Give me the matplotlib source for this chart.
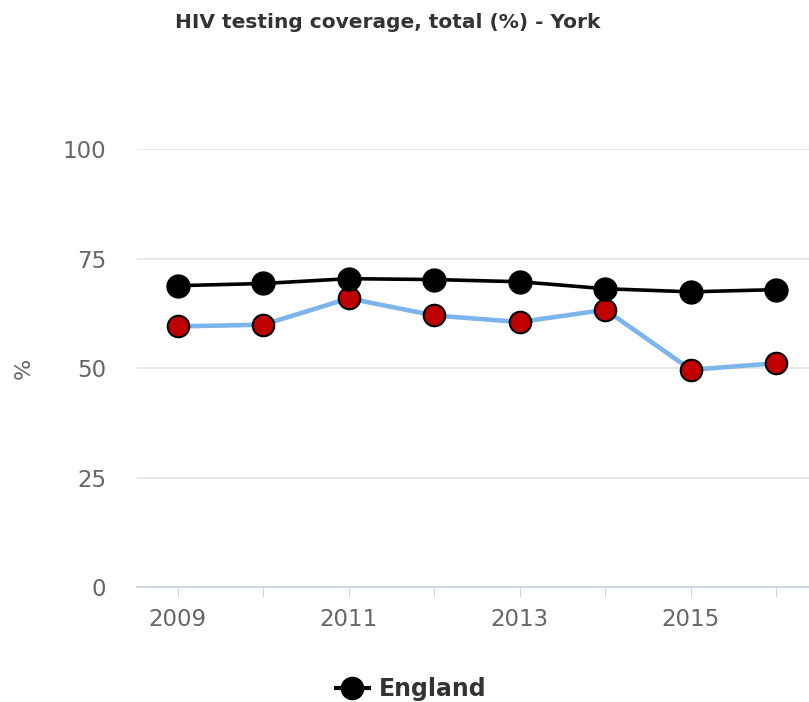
import matplotlib.pyplot as plt
from matplotlib.lines import Line2D

years = [2009, 2010, 2011, 2012, 2013, 2014, 2015, 2016]
england = [68.8, 69.3, 70.4, 70.2, 69.7, 68.1, 67.4, 67.9]
york = [59.5, 59.9, 65.9, 62.0, 60.5, 63.3, 49.6, 51.1]
tick_years = [2009, 2011, 2013, 2015]

fig = plt.figure(figsize=(8.09, 7.02), dpi=100)
ax = fig.add_axes([0.169, 0.1638, 0.831, 0.6239])

# York series
ax.plot(years, york, color="#7cb5ec", linewidth=3.3, zorder=3,
        marker="o", markersize=15.5, markerfacecolor="#c00000",
        markeredgecolor="#000000", markeredgewidth=1.5)
# England series
ax.plot(years, england, color="#000000", linewidth=2.6, zorder=4,
        marker="o", markersize=16.5, markerfacecolor="#000000",
        markeredgecolor="#000000")

ax.set_ylim(0, 100)
ax.set_xlim(2008.52, 2016.38)
ax.set_yticks([0, 25, 50, 75, 100])
ax.set_xticks(years)
ax.set_xticklabels([str(y) if y in tick_years else "" for y in years])

ax.grid(axis="y", color="#e6e6e6", linewidth=1.3)
ax.set_axisbelow(True)
for s in ["top", "right", "left"]:
    ax.spines[s].set_visible(False)
ax.spines["bottom"].set_color("#ccd6eb")
ax.spines["bottom"].set_linewidth(1.3)
ax.tick_params(axis="y", length=0, labelsize=16.5, labelcolor="#666666", pad=22)
ax.tick_params(axis="x", length=7, color="#ccd6eb", labelsize=16.5,
               labelcolor="#666666", pad=8)
ax.set_ylabel("%", fontsize=16, color="#666666")
ax.yaxis.set_label_coords(-0.153, 0.5)

fig.text(0.479, 0.968, "HIV testing coverage, total (%) - York",
         ha="center", va="center", fontsize=14.5, fontweight="bold",
         color="#333333")

handle = Line2D([], [], color="#000000", linewidth=3, marker="o",
                markersize=16, markerfacecolor="#000000")
fig.legend([handle], ["England"], loc="center", bbox_to_anchor=(0.508, 0.018),
           frameon=False, prop={"size": 17, "weight": "bold"},
           labelcolor="#333333", handlelength=1.4, handletextpad=0.4)

plt.savefig("out.png", dpi=100)
